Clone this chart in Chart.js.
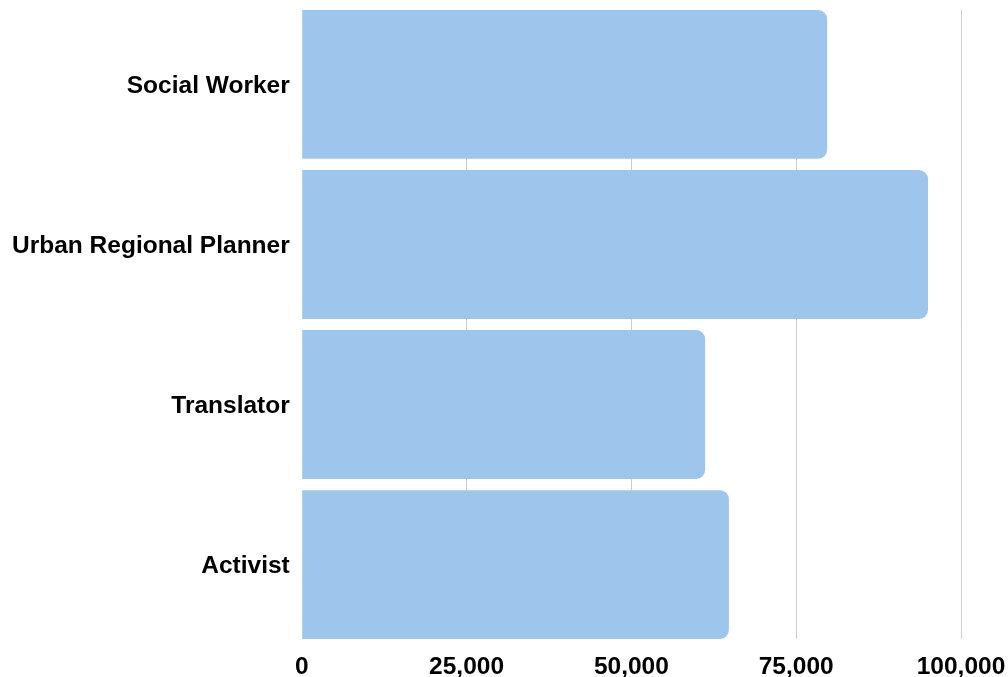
<!DOCTYPE html>
<html>
<head>
<meta charset="utf-8">
<script src="https://cdn.jsdelivr.net/npm/chart.js@4/dist/chart.umd.min.js"></script>
<style>
  html, body { margin: 0; padding: 0; background: #fff; }
  #wrap { width: 1008px; height: 677px; }
</style>
</head>
<body>
<div id="wrap"><canvas id="salaries"></canvas></div>
<script>
  const jobs = ['Social Worker', 'Urban Regional Planner', 'Translator', 'Activist'];
  const salary = [79700, 95000, 61200, 64800];
  const xTicks = [0, 25000, 50000, 75000, 100000];

  const labelFont = { family: '"Liberation Sans", Arial, sans-serif', size: 24.5, weight: 'bold', lineHeight: 1 };

  // bars sit on index positions 0..3; the y range is trimmed so the
  // first and last bar touch the top and bottom of the plot
  const barPct = 0.93;
  const edge = 0.5 - (1 - barPct) / 2;

  const salaryCanvas = document.querySelector('#salaries');
  const salaryChart = new Chart(salaryCanvas, {
    type: 'bar',
    data: {
      datasets: [{
        label: 'salary',
        data: salary.map((v, i) => ({ x: v, y: i })),
        backgroundColor: 'rgb(158, 198, 236)',
        borderWidth: 0,
        borderRadius: 9,
        barPercentage: barPct,
        categoryPercentage: 1,
      }],
    },
    options: {
      indexAxis: 'y',
      responsive: true,
      maintainAspectRatio: false,
      animation: false,
      layout: { padding: { top: 10, right: 0, left: 0, bottom: 0 } },
      plugins: {
        legend: { display: false },
        tooltip: { enabled: false },
      },
      scales: {
        x: {
          type: 'linear',
          min: 0,
          max: 100000,
          afterBuildTicks: (axis) => { axis.ticks = xTicks.map(v => ({ value: v })); },
          afterFit: (axis) => { axis.paddingRight = 47; axis.height = 38; },
          grid: {
            color: (ctx) => (ctx.tick && ctx.tick.value === 0 ? 'rgba(0,0,0,0)' : '#cccccc'),
            drawTicks: false,
          },
          border: { display: false },
          ticks: {
            padding: 16,
            color: '#000',
            font: labelFont,
            callback: (v) => v.toLocaleString('en-US'),
          },
        },
        y: {
          type: 'linear',
          offset: false,
          reverse: true,
          min: -edge,
          max: jobs.length - 1 + edge,
          afterBuildTicks: (axis) => { axis.ticks = jobs.map((j, i) => ({ value: i })); },
          afterFit: (axis) => { axis.paddingTop = 0; axis.paddingBottom = 0; },
          grid: { display: false, drawTicks: false, offset: false },
          border: { display: false },
          ticks: {
            padding: 12,
            labelOffset: 2,
            color: '#000',
            font: labelFont,
            callback: (v) => jobs[v],
          },
        },
      },
    },
  });
</script>
</body>
</html>
